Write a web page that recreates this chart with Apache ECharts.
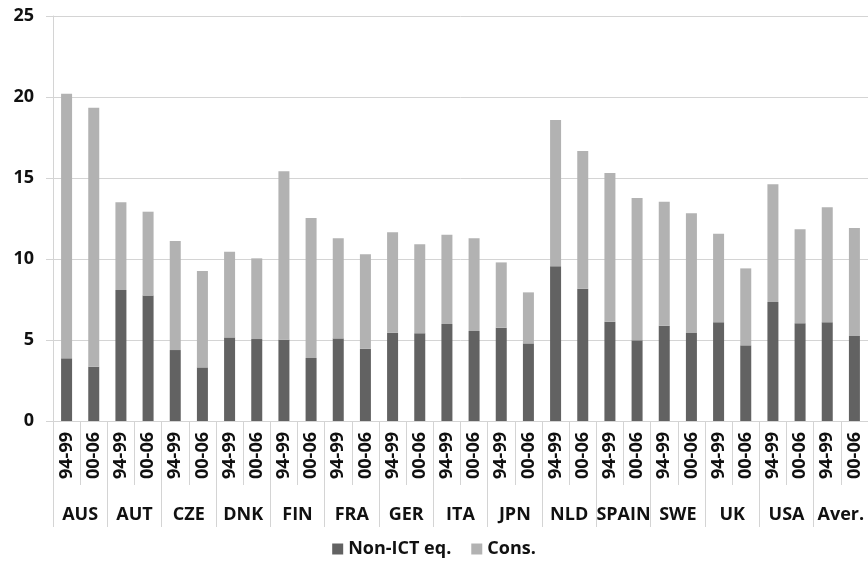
<!DOCTYPE html>
<html>
<head>
<meta charset="utf-8">
<script src="https://cdn.jsdelivr.net/npm/echarts@6/dist/echarts.min.js"></script>
<style>
  html, body { margin: 0; padding: 0; background: #fff; }
  #chart { width: 868px; height: 563px; }
</style>
</head>
<body>
<div id="chart"></div>
<script>
var countries = ['AUS', 'AUT', 'CZE', 'DNK', 'FIN', 'FRA', 'GER', 'ITA', 'JPN', 'NLD', 'SPAIN', 'SWE', 'UK', 'USA', 'Aver.'];
var periods = ['94-99', '00-06'];
// dark part (bottom of stack)
var nonIct = [3.87, 3.35, 8.09, 7.74, 4.38, 3.31, 5.16, 5.06, 5.02, 3.89,
              5.10, 4.46, 5.45, 5.41, 5.99, 5.56, 5.76, 4.79, 9.55, 8.17,
              6.13, 4.98, 5.88, 5.43, 6.09, 4.67, 7.35, 6.03, 6.09, 5.25];
// light part (on top)
var cons = [16.33, 15.99, 5.41, 5.18, 6.73, 5.95, 5.29, 4.98, 10.39, 8.64,
            6.18, 5.83, 6.20, 5.50, 5.51, 5.72, 4.03, 3.15, 9.03, 8.50,
            9.18, 8.79, 7.66, 7.39, 5.47, 4.75, 7.26, 5.80, 7.10, 6.66];
var yTicks = [0, 5, 10, 15, 20, 25];

var periodCats = [];
countries.forEach(function (c) {
    periods.forEach(function (p) { periodCats.push(p); });
});

var font = 'Open Sans';
var lineColor = '#d4d4d4';

var myChart = echarts.init(document.getElementById('chart'));
var option = {
    backgroundColor: '#fff',
    animation: false,
    textStyle: { fontFamily: font },
    legend: {
        bottom: 0,
        left: 'center',
        itemWidth: 11,
        itemHeight: 11,
        itemGap: 20,
        icon: 'rect',
        textStyle: { color: '#111', fontSize: 18, fontWeight: 'bold', fontFamily: font },
        data: ['Non-ICT eq.', 'Cons.']
    },
    grid: {
        left: 53,
        right: -6,
        top: 16,
        bottom: 142
    },
    xAxis: [{
        type: 'category',
        data: periodCats,
        position: 'bottom',
        axisLine: { show: true, lineStyle: { color: lineColor, width: 1 } },
        axisTick: { show: true, interval: 0, length: 64, lineStyle: { color: lineColor } },
        axisLabel: {
            interval: 0,
            rotate: 90,
            margin: 11,
            color: '#111',
            fontSize: 18,
            fontWeight: 'bold',
            fontFamily: font
        }
    }, {
        type: 'category',
        data: countries,
        position: 'bottom',
        offset: 64,
        axisLine: { show: false },
        axisTick: { show: true, interval: 0, length: 42, lineStyle: { color: lineColor } },
        axisLabel: {
            interval: 0,
            margin: 21,
            color: '#111',
            fontSize: 18,
            fontWeight: 'bold',
            fontFamily: font
        }
    }],
    yAxis: {
        type: 'value',
        min: yTicks[0],
        max: yTicks[yTicks.length - 1],
        interval: 5,
        axisLine: { show: true, lineStyle: { color: lineColor } },
        axisTick: { show: true, length: 7, lineStyle: { color: lineColor } },
        splitLine: { show: true, lineStyle: { color: lineColor } },
        axisLabel: {
            margin: 19,
            color: '#111',
            fontSize: 18,
            fontWeight: 'bold',
            fontFamily: font
        }
    },
    series: [{
        name: 'Non-ICT eq.',
        type: 'bar',
        stack: 'total',
        barWidth: 11,
        xAxisIndex: 0,
        itemStyle: { color: '#626262' },
        data: nonIct
    }, {
        name: 'Cons.',
        type: 'bar',
        stack: 'total',
        barWidth: 11,
        xAxisIndex: 0,
        itemStyle: { color: '#b2b2b2' },
        data: cons
    }]
};
myChart.setOption(option);
</script>
</body>
</html>
